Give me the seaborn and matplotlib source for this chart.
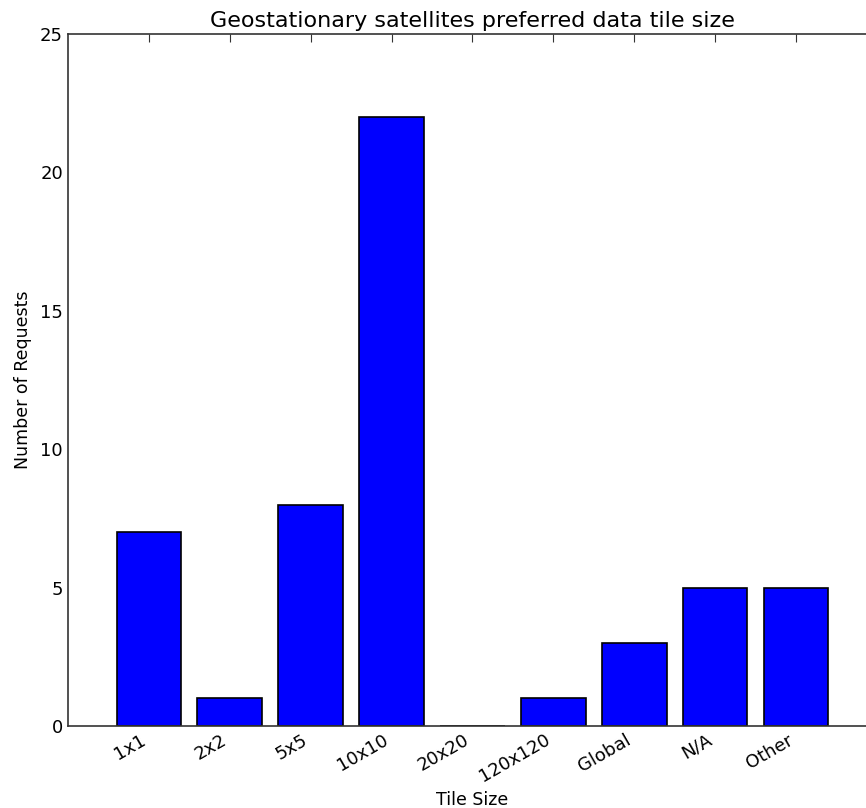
import matplotlib
matplotlib.use('Agg')
import pandas as pd
import matplotlib.pyplot as plt
import seaborn as sns

TILE_SIZES = ['1x1', '2x2', '5x5', '10x10', '20x20', '120x120', 'Global', 'N/A', 'Other']
REQUESTS = [7, 1, 8, 22, 0, 1, 3, 5, 5]

sns.set_style('white')
plt.rcParams['font.family'] = ['DejaVu Sans']
plt.rcParams['text.color'] = 'black'
plt.rcParams['axes.labelcolor'] = 'black'

df = pd.DataFrame({'size': TILE_SIZES, 'requests': REQUESTS})

fig = plt.figure(figsize=(8.66, 8.08), dpi=100)
ax = fig.add_axes([0.0785, 0.1015, 0.934, 0.8564])
sns.barplot(data=df, x='size', y='requests', color='#0000ff', saturation=1,
            edgecolor='black', linewidth=1.2, width=0.8, ax=ax)

ax.set_xlim(-1, 9)
ax.set_ylim(0, 25)
ax.set_yticks([0, 5, 10, 15, 20, 25])
ax.tick_params(axis='both', which='both', direction='in', length=6,
               top=True, right=True, labelsize=13, colors='#333333',
               labelcolor='black')
plt.setp(ax.get_xticklabels(), rotation=30, ha='right')
for spine in ax.spines.values():
    spine.set_visible(True)
    spine.set_color('#333333')
    spine.set_linewidth(1.2)

ax.set_title('Geostationary satellites preferred data tile size', fontsize=16, pad=5)
ax.set_xlabel('Tile Size', fontsize=12.5)
ax.set_ylabel('Number of Requests', fontsize=12.5, labelpad=6)

fig.savefig('out.png', dpi=100)
